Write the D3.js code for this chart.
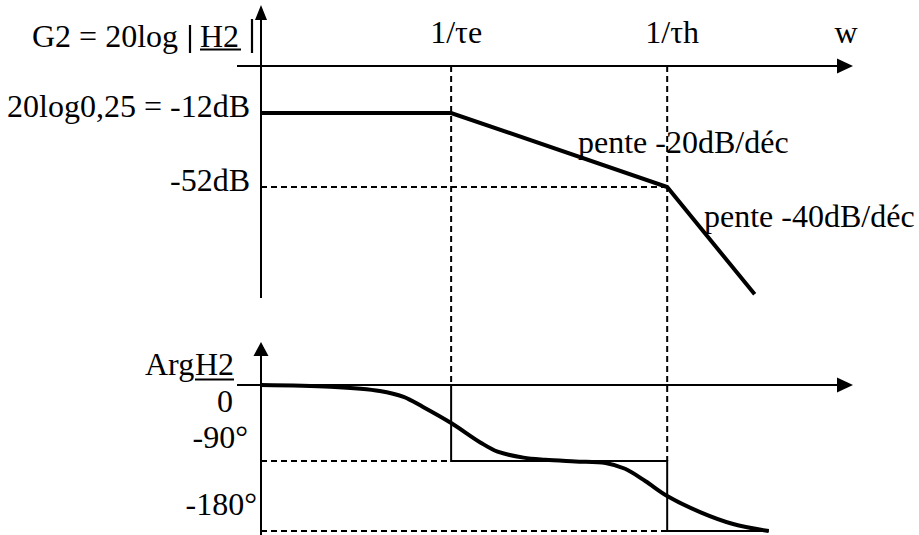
<!DOCTYPE html>
<html><head><meta charset="utf-8">
<script src="https://cdn.jsdelivr.net/npm/d3@7/dist/d3.min.js"></script>
<style>
html,body{margin:0;padding:0;background:#fff;}
svg text{font-family:"Liberation Serif","Times New Roman",serif;font-size:32px;fill:#000;}
</style></head>
<body><svg id="c" width="919" height="535"></svg>
<script>
// ---- data (x in decades relative to 1/τe ; 1/τh is 2 decades later) ----
const breakLabels = ["1/τe", "1/τh"];
const breakDecades = [0, 2];
const gainLevelLabels = ["20log0,25 = -12dB", "-52dB"];
const gainLevels = [-12, -52];
const gainDecades = [-1.76, 0, 2, 2.81];
const gainValues  = [-12, -12, -52, -110];
const phaseTickLabels = ["0", "-90°", "-180°"];
const phaseTicks = [0, -90, -180];
const phaseDecades = [-1.76, -1.12, -0.66, -0.44, -0.26, 0, 0.27, 0.43, 0.67, 0.87, 1.15, 1.43, 1.61, 1.80, 2.0, 2.31, 2.61, 2.94];
const phaseValues  = [0, -2, -7, -14, -26, -45, -68, -79, -86, -88.5, -90.5, -92.5, -100, -116, -135, -156, -171, -180];
const asymDecades = [0, 0, 2, 2, 2.94];
const asymValues  = [0, -90, -90, -180, -180];

const svg = d3.select("#c");
const x = d3.scaleLinear().domain([-1.76, 3.72]).range([261, 853]);
const yG = d3.scaleLinear().domain([-12, -52]).range([113, 187]);
const yP = d3.scaleLinear().domain([0, -90, -180]).range([385, 461, 531]);

// layout constants
const gAxisY = 66, gTop = 5, gBottom = 298, axisLeft = 237;
const pTop = 342, pBottom = 535;
const ax0 = x(-1.76);

function line(x1,y1,x2,y2,w,dash){
  const l = svg.append("line").attr("x1",x1).attr("y1",y1).attr("x2",x2).attr("y2",y2)
    .attr("stroke","#000").attr("stroke-width",w);
  if(dash) l.attr("stroke-dasharray",dash);
  return l;
}
function arrowUp(cx,tip,len,hw){
  svg.append("path").attr("d",`M${cx},${tip}L${cx-hw},${tip+len}L${cx+hw},${tip+len}Z`).attr("fill","#000");
}
function arrowRight(tip,cy,len,hw){
  svg.append("path").attr("d",`M${tip},${cy}L${tip-len},${cy-hw}L${tip-len},${cy+hw}Z`).attr("fill","#000");
}

const dash = "6,4";
// dashed guides
line(x(breakDecades[0]), gAxisY, x(breakDecades[0]), yP(0), 2, dash);
line(x(breakDecades[1]), gAxisY, x(breakDecades[1]), yP(-90), 2, dash);
line(ax0, yG(-52), x(breakDecades[1]), yG(-52), 2, dash);
line(ax0, yP(-90), x(breakDecades[0]), yP(-90), 2, dash);
line(ax0, yP(-180), x(breakDecades[1]), yP(-180), 2, dash);

// axes - gain
line(ax0, gBottom, ax0, gTop+12, 2);
arrowUp(ax0, gTop, 15, 6);
line(axisLeft, gAxisY, x(3.72)-14, gAxisY, 2);
arrowRight(x(3.72), gAxisY, 16, 7.5);
// axes - phase
line(ax0, pBottom, ax0, pTop+12, 2);
arrowUp(ax0, pTop, 14, 7.5);
line(axisLeft, yP(0), x(3.72)-14, yP(0), 2);
arrowRight(x(3.72), yP(0), 16, 7.5);

// phase asymptote (thin solid)
svg.append("path")
  .attr("d", d3.line().x((d,i)=>x(asymDecades[i])).y((d,i)=>yP(asymValues[i]))(asymDecades))
  .attr("fill","none").attr("stroke","#000").attr("stroke-width",2);

// gain curve
svg.append("path")
  .attr("d", d3.line().x((d,i)=>x(gainDecades[i])).y((d,i)=>yG(gainValues[i]))(gainDecades))
  .attr("fill","none").attr("stroke","#000").attr("stroke-width",4).attr("stroke-linejoin","miter");

// phase curve
svg.append("path")
  .attr("d", d3.line().curve(d3.curveCatmullRom.alpha(0.5)).x((d,i)=>x(phaseDecades[i])).y((d,i)=>yP(phaseValues[i]))(phaseDecades))
  .attr("fill","none").attr("stroke","#000").attr("stroke-width",4);

// texts
svg.append("text").attr("x",32).attr("y",47).text("G2 = 20log");
line(190, 25, 190, 53, 2.2);
svg.append("text").attr("x",200).attr("y",47).text("H2");
line(200, 49.5, 241, 49.5, 1.8);
line(252, 19, 252, 53, 2.2);

breakLabels.forEach((t,i)=>{
  svg.append("text").attr("x", x(breakDecades[i]) + 5).attr("y",43).attr("text-anchor","middle").text(t);
});
svg.append("text").attr("x",846).attr("y",43).attr("text-anchor","middle").text("w");

gainLevelLabels.forEach((t,i)=>{
  svg.append("text").attr("x",250).attr("y",yG(gainLevels[i])+4).attr("text-anchor","end").text(t);
});
svg.append("text").attr("x",578).attr("y",153).text("pente -20dB/déc");
svg.append("text").attr("x",704).attr("y",227).text("pente -40dB/déc");

// phase labels
svg.append("text").attr("x",145).attr("y",375).text("Arg");
svg.append("text").attr("x",195).attr("y",375).text("H2");
line(195, 379.5, 234, 379.5, 1.8);
const phaseLabelPos = [[233,412],[248,448],[257,515]];
phaseTickLabels.forEach((t,i)=>{
  svg.append("text").attr("x",phaseLabelPos[i][0]).attr("y",phaseLabelPos[i][1]).attr("text-anchor","end").text(t);
});
</script></body></html>
